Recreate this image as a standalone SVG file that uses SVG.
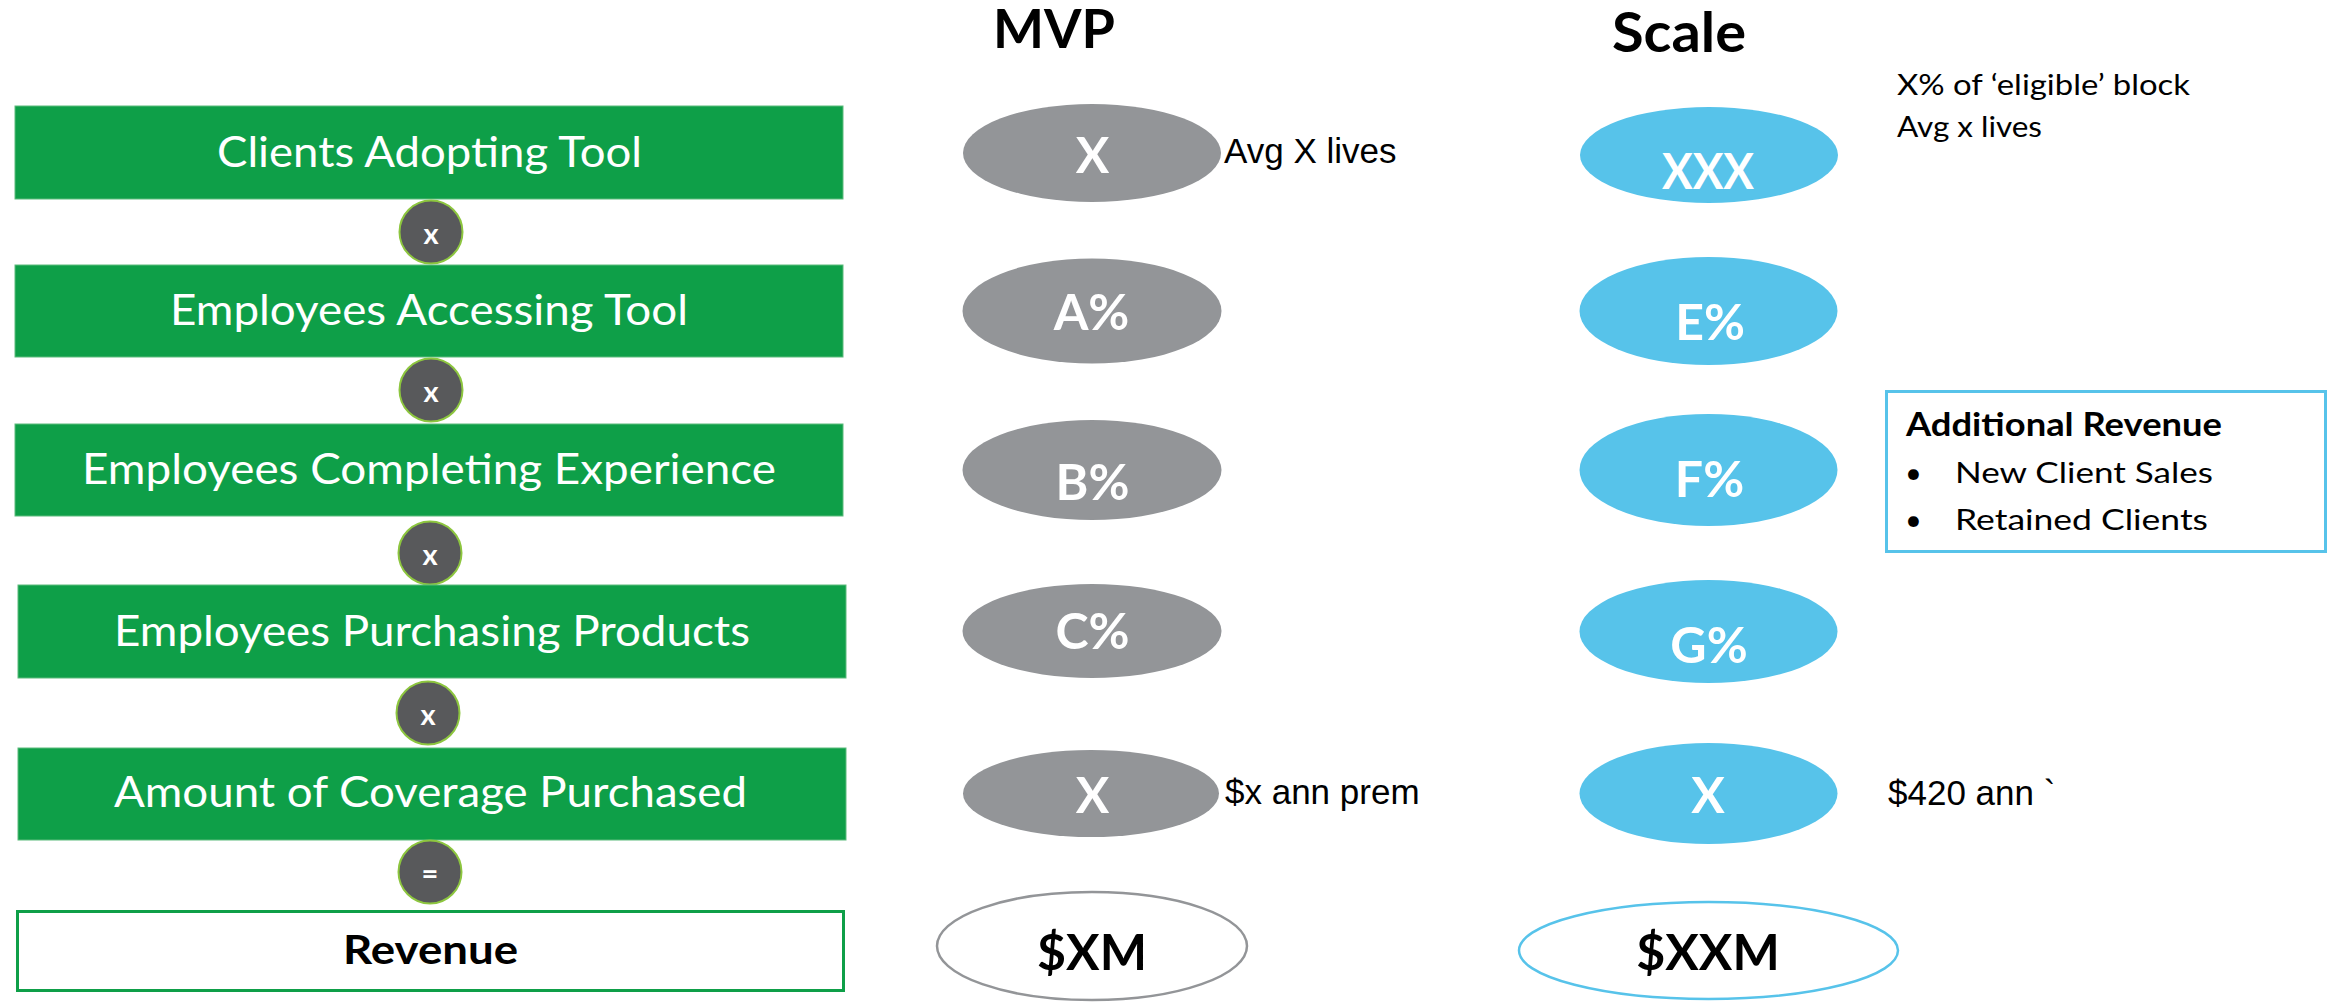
<svg xmlns="http://www.w3.org/2000/svg" width="2334" height="1005" viewBox="0 0 2334 1005">
<style>
.box{fill:#0E9F48;stroke:#5DBB7D;stroke-width:1}
.boxt{font-family:Lato,"Open Sans",sans-serif;font-size:43px;fill:#fff;text-anchor:middle}
.op{fill:#58595B;stroke:#8DC63F;stroke-width:2}
.opt{font-family:Lato,"Open Sans",sans-serif;font-size:29px;font-weight:bold;fill:#fff;text-anchor:middle}
.gray{fill:#939598}
.blue{fill:#57C3EA}
.elt{font-family:Lato,"Open Sans",sans-serif;font-size:50px;font-weight:bold;fill:#fff;text-anchor:middle}
.tot{font-family:Lato,"Open Sans",sans-serif;font-size:50px;font-weight:bold;fill:#000;text-anchor:middle}
.head{font-family:Lato,"Open Sans",sans-serif;font-weight:bold;fill:#000}
.note{font-family:"Liberation Sans",Arial,sans-serif;font-size:35px;fill:#000}
.cal{font-family:Lato,"Open Sans",sans-serif;font-size:29px;fill:#000}
</style>

<g id="connectors"></g>

<!-- left column -->
<g id="clients-adopting-tool">
  <rect class="box" x="15" y="106" width="828" height="93"/>
  <text class="boxt" x="429.5" y="167" textLength="425" lengthAdjust="spacingAndGlyphs">Clients Adopting Tool</text>
</g>
<g id="op1">
  <circle class="op" cx="431" cy="232" r="31.5"/>
  <text class="opt" x="431" y="244">x</text>
</g>
<g id="employees-accessing-tool">
  <rect class="box" x="15" y="265" width="828" height="92"/>
  <text class="boxt" x="429" y="325" textLength="518" lengthAdjust="spacingAndGlyphs">Employees Accessing Tool</text>
</g>
<g id="op2">
  <circle class="op" cx="431" cy="390" r="31.5"/>
  <text class="opt" x="431" y="402">x</text>
</g>
<g id="employees-completing-experience">
  <rect class="box" x="15" y="424" width="828" height="92"/>
  <text class="boxt" x="429" y="484" textLength="694" lengthAdjust="spacingAndGlyphs">Employees Completing Experience</text>
</g>
<g id="op3">
  <circle class="op" cx="430" cy="553" r="31.5"/>
  <text class="opt" x="430" y="565">x</text>
</g>
<g id="employees-purchasing-products">
  <rect class="box" x="18" y="585" width="828" height="93"/>
  <text class="boxt" x="432" y="646" textLength="636" lengthAdjust="spacingAndGlyphs">Employees Purchasing Products</text>
</g>
<g id="op4">
  <circle class="op" cx="428" cy="713" r="31.5"/>
  <text class="opt" x="428" y="725">x</text>
</g>
<g id="amount-of-coverage-purchased">
  <rect class="box" x="18" y="748" width="828" height="92"/>
  <text class="boxt" x="430.5" y="807" textLength="633" lengthAdjust="spacingAndGlyphs">Amount of Coverage Purchased</text>
</g>
<g id="op5">
  <circle class="op" cx="430" cy="872" r="31.5"/>
  <text class="opt" x="430" y="884">=</text>
</g>
<g id="revenue">
  <rect x="17.5" y="911.5" width="826" height="79" fill="#fff" stroke="#0E9F48" stroke-width="3"/>
  <text class="head" x="430.5" y="964" font-size="40" text-anchor="middle" textLength="175" lengthAdjust="spacingAndGlyphs">Revenue</text>
</g>

<!-- MVP column -->
<g id="mvp-header">
  <text class="head" x="1054" y="48" font-size="54" text-anchor="middle" textLength="122" lengthAdjust="spacingAndGlyphs">MVP</text>
</g>
<g id="mvp-clients">
  <ellipse class="gray" cx="1092" cy="153" rx="129" ry="49"/>
  <text class="elt" x="1092.5" y="173">X</text>
  <text class="note" x="1224" y="163">Avg X lives</text>
</g>
<g id="mvp-accessing">
  <ellipse class="gray" cx="1092" cy="311" rx="129.5" ry="52.5"/>
  <text class="elt" x="1091.5" y="330">A%</text>
</g>
<g id="mvp-completing">
  <ellipse class="gray" cx="1092" cy="470" rx="129.5" ry="50"/>
  <text class="elt" x="1092.5" y="500">B%</text>
</g>
<g id="mvp-purchasing">
  <ellipse class="gray" cx="1092" cy="631" rx="129.5" ry="47"/>
  <text class="elt" x="1092.5" y="649">C%</text>
</g>
<g id="mvp-coverage">
  <ellipse class="gray" cx="1091" cy="793.5" rx="128" ry="43.5"/>
  <text class="elt" x="1092.5" y="813">X</text>
  <text class="note" x="1225" y="804">$x ann prem</text>
</g>
<g id="mvp-revenue">
  <ellipse cx="1092" cy="946" rx="155" ry="54" fill="#fff" stroke="#939598" stroke-width="2.5"/>
  <text class="tot" x="1092" y="970">$XM</text>
</g>

<!-- Scale column -->
<g id="scale-header">
  <text class="head" x="1679" y="52" font-size="56" text-anchor="middle" textLength="134" lengthAdjust="spacingAndGlyphs">Scale</text>
</g>
<g id="scale-clients">
  <ellipse class="blue" cx="1709" cy="155" rx="129" ry="48"/>
  <text class="elt" x="1708" y="189" textLength="92" lengthAdjust="spacingAndGlyphs">XXX</text>
  <text class="cal" x="1897" y="95" textLength="293" lengthAdjust="spacingAndGlyphs">X% of ‘eligible’ block</text>
  <text class="cal" x="1897" y="137" textLength="145" lengthAdjust="spacingAndGlyphs">Avg x lives</text>
</g>
<g id="scale-accessing">
  <ellipse class="blue" cx="1708.5" cy="311" rx="129" ry="54"/>
  <text class="elt" x="1710" y="340">E%</text>
</g>
<g id="scale-completing">
  <ellipse class="blue" cx="1708.5" cy="470" rx="129" ry="56"/>
  <text class="elt" x="1709.5" y="497">F%</text>
</g>
<g id="scale-purchasing">
  <ellipse class="blue" cx="1708.5" cy="631.5" rx="129" ry="51.5"/>
  <text class="elt" x="1709" y="663">G%</text>
</g>
<g id="scale-coverage">
  <ellipse class="blue" cx="1708.5" cy="793.5" rx="129" ry="50.5"/>
  <text class="elt" x="1708" y="813">X</text>
  <text class="note" x="1888" y="805">$420 ann `</text>
</g>
<g id="scale-revenue">
  <ellipse cx="1708.5" cy="950.5" rx="189.5" ry="48.5" fill="#fff" stroke="#57C3EA" stroke-width="2.5"/>
  <text class="tot" x="1708" y="970">$XXM</text>
</g>

<g id="additional-revenue">
  <rect x="1886.5" y="391.5" width="439" height="160" fill="#fff" stroke="#57C3EA" stroke-width="3"/>
  <text class="head" x="1906" y="436" font-size="32.5" textLength="316" lengthAdjust="spacingAndGlyphs">Additional Revenue</text>
  <text class="cal" x="1905" y="483">•</text>
  <text class="cal" x="1955" y="483" textLength="258" lengthAdjust="spacingAndGlyphs">New Client Sales</text>
  <text class="cal" x="1905" y="530">•</text>
  <text class="cal" x="1955" y="530" textLength="253" lengthAdjust="spacingAndGlyphs">Retained Clients</text>
</g>
</svg>
